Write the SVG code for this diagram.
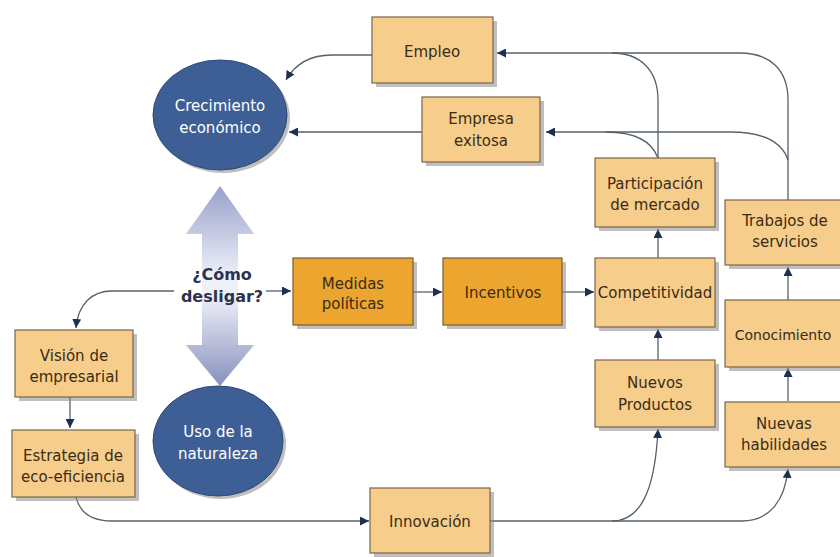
<svg xmlns="http://www.w3.org/2000/svg" width="840" height="557" viewBox="0 0 840 557">
<defs>
<style>
.box{fill:#f7cd8c;stroke:#7a6548;stroke-width:1.2}
.dbox{fill:#eca52e;stroke:#7a5a30;stroke-width:1.2}
.sh{fill:#8a8a8a;opacity:0.55}
.ell{fill:#3d5f95;stroke:#2d4a78;stroke-width:1}
.t{font-family:"DejaVu Sans",Verdana,sans-serif;font-size:15px;fill:#3a2c14;text-anchor:middle}
.w{font-family:"DejaVu Sans",Verdana,sans-serif;font-size:15px;fill:#ffffff;text-anchor:middle}
.q{font-family:"DejaVu Sans",Verdana,sans-serif;font-size:16px;font-weight:bold;fill:#2c3350;text-anchor:middle}
.c{fill:none;stroke:#55606c;stroke-width:1.3}
</style>
<marker id="ah" viewBox="0 0 10 10" refX="10" refY="5" markerWidth="9" markerHeight="9" markerUnits="userSpaceOnUse" orient="auto">
<path d="M0,0 L10,5 L0,10 z" fill="#1f2f52"/>
</marker>
<linearGradient id="ga" x1="0" y1="0" x2="0" y2="1">
<stop offset="0" stop-color="#98a0cb"/>
<stop offset="0.45" stop-color="#eef0f8"/>
<stop offset="0.55" stop-color="#eef0f8"/>
<stop offset="1" stop-color="#8890bd"/>
</linearGradient>
</defs>

<g id="bigarrow">
<path d="M220,186 L254,234 L238,234 L238,345 L254,345 L220,386 L186,345 L202,345 L202,234 L186,234 z" fill="url(#ga)"/>
</g>

<g id="connectors">
<path class="c" d="M372,55 L332,55 C308,55 294,66 286,80" marker-end="url(#ah)"/>
<path class="c" d="M422,132 L289,132" marker-end="url(#ah)"/>
<path class="c" d="M658,158 L658,100 C658,70 640,53 612,53 L497,53" marker-end="url(#ah)"/>
<path class="c" d="M788,200 L788,100 C788,70 770,53 740,53 L612,53"/>
<path class="c" d="M658,158 C652,142 636,132 606,132 L546,132" marker-end="url(#ah)"/>
<path class="c" d="M788,160 C782,142 764,132 730,132 L606,132"/>
<path class="c" d="M658,258 L658,229" marker-end="url(#ah)"/>
<path class="c" d="M658,360 L658,329" marker-end="url(#ah)"/>
<path class="c" d="M788,300 L788,267" marker-end="url(#ah)"/>
<path class="c" d="M788,401 L788,368" marker-end="url(#ah)"/>
<path class="c" d="M413,292 L442,292" marker-end="url(#ah)"/>
<path class="c" d="M562,292 L594,292" marker-end="url(#ah)"/>
<path class="c" d="M266,291 L291,291" marker-end="url(#ah)"/>
<path class="c" d="M174,291 L112,291 C92,291 78,304 76,328" marker-end="url(#ah)"/>
<path class="c" d="M70,397 L70,428" marker-end="url(#ah)"/>
<path class="c" d="M76,497 C80,514 92,521 112,521 L369,521" marker-end="url(#ah)"/>
<path class="c" d="M490,521 L612,521 C640,521 655,492 658,429" marker-end="url(#ah)"/>
<path class="c" d="M612,521 L742,521 C770,521 785,500 788,469" marker-end="url(#ah)"/>
</g>

<g id="crecimiento">
<ellipse cx="223" cy="118" rx="67" ry="55" class="sh"/>
<ellipse cx="220" cy="115" rx="67" ry="55" class="ell"/>
<text class="w" x="220" y="111">Crecimiento</text>
<text class="w" x="220" y="133">económico</text>
</g>

<g id="uso">
<ellipse cx="221" cy="444" rx="65" ry="55" class="sh"/>
<ellipse cx="218" cy="441" rx="65" ry="55" class="ell"/>
<text class="w" x="218" y="437">Uso de la</text>
<text class="w" x="218" y="459">naturaleza</text>
</g>

<g id="empleo">
<rect x="376" y="21" width="121" height="66" class="sh"/>
<rect x="372" y="17" width="121" height="66" class="box"/>
<text class="t" x="432" y="57">Empleo</text>
</g>

<g id="empresa">
<rect x="426" y="101" width="118" height="65" class="sh"/>
<rect x="422" y="97" width="118" height="65" class="box"/>
<text class="t" x="481" y="124">Empresa</text>
<text class="t" x="481" y="146">exitosa</text>
</g>

<g id="participacion">
<rect x="599" y="162" width="120" height="69" class="sh"/>
<rect x="595" y="158" width="120" height="69" class="box"/>
<text class="t" x="655" y="189">Participación</text>
<text class="t" x="655" y="210">de mercado</text>
</g>

<g id="trabajos">
<rect x="729" y="204" width="120" height="65" class="sh"/>
<rect x="725" y="200" width="120" height="65" class="box"/>
<text class="t" x="785" y="226">Trabajos de</text>
<text class="t" x="785" y="247">servicios</text>
</g>

<g id="medidas">
<rect x="297" y="262" width="120" height="67" class="sh"/>
<rect x="293" y="258" width="120" height="67" class="dbox"/>
<text class="t" x="353" y="289">Medidas</text>
<text class="t" x="353" y="309">políticas</text>
</g>

<g id="incentivos">
<rect x="447" y="262" width="119" height="67" class="sh"/>
<rect x="443" y="258" width="119" height="67" class="dbox"/>
<text class="t" x="503" y="298">Incentivos</text>
</g>

<g id="competitividad">
<rect x="599" y="262" width="120" height="69" class="sh"/>
<rect x="595" y="258" width="120" height="69" class="box"/>
<text class="t" x="655" y="298">Competitividad</text>
</g>

<g id="conocimiento">
<rect x="729" y="304" width="125" height="67" class="sh"/>
<rect x="725" y="300" width="125" height="67" class="box"/>
<text class="t" x="783" y="340" style="font-size:14px">Conocimiento</text>
</g>

<g id="nuevos">
<rect x="599" y="364" width="120" height="67" class="sh"/>
<rect x="595" y="360" width="120" height="67" class="box"/>
<text class="t" x="655" y="388">Nuevos</text>
<text class="t" x="655" y="410">Productos</text>
</g>

<g id="habilidades">
<rect x="729" y="406" width="120" height="65" class="sh"/>
<rect x="725" y="402" width="120" height="65" class="box"/>
<text class="t" x="784" y="429">Nuevas</text>
<text class="t" x="784" y="450">habilidades</text>
</g>

<g id="como">
<text class="q" x="222" y="280">¿Cómo</text>
<text class="q" x="222" y="302">desligar?</text>
</g>

<g id="vision">
<rect x="19" y="334" width="118" height="67" class="sh"/>
<rect x="15" y="330" width="118" height="67" class="box"/>
<text class="t" x="74" y="361">Visión de</text>
<text class="t" x="74" y="382">empresarial</text>
</g>

<g id="estrategia">
<rect x="16" y="434" width="123" height="67" class="sh"/>
<rect x="12" y="430" width="123" height="67" class="box"/>
<text class="t" x="73" y="461">Estrategia de</text>
<text class="t" x="73" y="482">eco-eficiencia</text>
</g>

<g id="innovacion">
<rect x="374" y="492" width="120" height="65" class="sh"/>
<rect x="370" y="488" width="120" height="65" class="box"/>
<text class="t" x="430" y="527">Innovación</text>
</g>
</svg>
